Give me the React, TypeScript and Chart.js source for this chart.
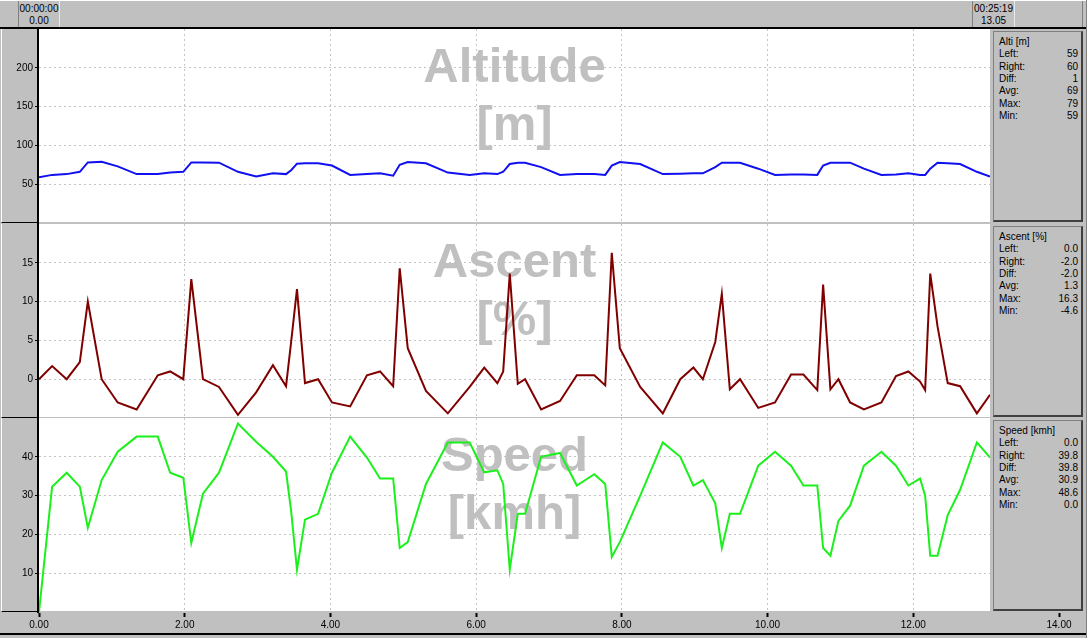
import React, { useEffect, useRef } from 'react';
import Chart from 'chart.js/auto';

// ---------------- data ----------------
const distanceKm = [
  0.0, 0.18, 0.38, 0.56, 0.67, 0.86, 1.08, 1.34, 1.63, 1.8, 1.98, 2.09, 2.25, 2.47, 2.73,
  2.98, 3.21, 3.39, 3.46, 3.54, 3.65, 3.83, 4.02, 4.27, 4.5, 4.68, 4.86, 4.95, 5.06, 5.31,
  5.61, 5.91, 6.11, 6.29, 6.37, 6.46, 6.57, 6.67, 6.89, 7.15, 7.38, 7.62, 7.77, 7.86, 7.97,
  8.25, 8.56, 8.8, 8.98, 9.11, 9.28, 9.37, 9.48, 9.62, 9.87, 10.1, 10.32, 10.49, 10.68, 10.76,
  10.86, 10.97, 11.13, 11.32, 11.56, 11.76, 11.93, 12.09, 12.16, 12.23, 12.33, 12.47, 12.64, 12.87, 13.05,
];

const altitudeM = [
  59, 62, 63, 66, 78, 79, 73, 63, 63, 65, 66, 78, 78, 77.7, 66,
  60, 64, 63, 68, 76.5, 77, 77, 74, 62, 63, 64, 61, 75, 78.6, 77,
  65, 62, 64, 63, 66, 76, 77.7, 77.7, 72, 62, 63, 63, 62, 74, 78.6,
  76, 63, 63.5, 64, 64, 72, 77.7, 77.7, 77.7, 70, 62, 62.6, 62.6, 62, 74,
  77.7, 77.7, 77.7, 70, 62, 62.5, 64, 62, 62, 70, 77.7, 77, 76, 66, 60,
];

const ascentPct = [
  0.0, 1.7, 0.0, 2.2, 10.0, 0.0, -3.0, -3.9, 0.5, 1.0, 0.0, 12.9, 0.0, -1.0, -4.6,
  -1.7, 1.8, -0.9, 4.8, 11.6, -0.5, 0.0, -3.0, -3.5, 0.5, 1.0, -0.9, 14.3, 4.0, -1.5,
  -4.4, -1.0, 1.5, -0.5, 1.0, 13.6, -0.6, 0.0, -3.9, -2.8, 0.5, 0.5, -0.8, 16.3, 4.0,
  -1.0, -4.4, 0.0, 1.5, 0.0, 4.8, 11.0, -1.3, 0.0, -3.7, -3.0, 0.6, 0.6, -1.4, 12.2,
  -1.3, 0.0, -3.0, -3.9, -3.0, 0.4, 1.0, -0.3, -1.4, 13.6, 6.8, -0.5, -0.9, -4.4, -2.0,
];

const speedKmh = [
  0, 32.3, 35.9, 32.3, 21.7, 34.0, 41.3, 45.2, 45.2, 35.9, 34.6, 17.8, 30.5, 35.9, 48.6,
  43.9, 40.0, 36.2, 26.0, 10.9, 23.8, 25.3, 35.9, 45.2, 39.8, 34.4, 34.4, 16.5, 18.0, 33.0,
  43.7, 43.7, 36.0, 36.5, 33.0, 10.9, 25.3, 25.3, 40.0, 41.0, 32.6, 35.5, 33.0, 14.2, 18.0,
  30.0, 43.7, 40.0, 32.6, 34.0, 28.0, 16.5, 25.3, 25.3, 37.7, 41.3, 37.7, 32.6, 32.6, 16.5,
  14.5, 23.5, 27.4, 37.7, 41.3, 37.7, 32.6, 34.4, 30.0, 14.5, 14.5, 25.0, 31.5, 43.7, 39.8,
];

const xAxisTicks = [0, 2, 4, 6, 8, 10, 12, 14];
const altitudeTicks = [50, 100, 150, 200];
const ascentTicks = [0, 5, 10, 15];
const speedTicks = [10, 20, 30, 40];

const altitudeStats = [['Left:', '59'], ['Right:', '60'], ['Diff:', '1'], ['Avg:', '69'], ['Max:', '79'], ['Min:', '59']];
const ascentStats = [['Left:', '0.0'], ['Right:', '-2.0'], ['Diff:', '-2.0'], ['Avg:', '1.3'], ['Max:', '16.3'], ['Min:', '-4.6']];
const speedStats = [['Left:', '0.0'], ['Right:', '39.8'], ['Diff:', '39.8'], ['Avg:', '30.9'], ['Max:', '48.6'], ['Min:', '0.0']];

const X_END = 13.05;
const FONT = '"Liberation Sans", Arial, sans-serif';

// ---------------- layout ----------------
const PANEL_TOPS = [29, 224, 418];
const PANEL_H = 194;
const PLOT_W = 990;

function watermarkPlugin(lines: string[]) {
  return {
    id: 'watermark',
    beforeDatasetsDraw(chart: any) {
      const { ctx, chartArea } = chart;
      ctx.save();
      ctx.font = 'bold 49px ' + FONT;
      ctx.fillStyle = '#c0c0c0';
      ctx.textAlign = 'center';
      ctx.textBaseline = 'alphabetic';
      const cx = (chartArea.left + chartArea.right) / 2;
      ctx.fillText(lines[0], cx, chartArea.top + 53);
      ctx.fillText(lines[1], cx, chartArea.top + 111);
      ctx.restore();
    },
  };
}

function panelChart(
  canvas: HTMLCanvasElement,
  values: number[],
  color: string,
  min: number,
  max: number,
  ticks: number[],
  title: string[],
) {
  return new Chart(canvas, {
    type: 'line',
    data: {
      datasets: [
        {
          data: distanceKm.map((x, i) => ({ x, y: values[i] })),
          borderColor: color,
          borderWidth: 2,
          pointRadius: 0,
          pointHoverRadius: 0,
          tension: 0,
          fill: false,
        },
      ],
    },
    options: {
      animation: false,
      responsive: false,
      maintainAspectRatio: false,
      events: [],
      layout: { padding: 0 },
      plugins: { legend: { display: false }, tooltip: { enabled: false } },
      scales: {
        x: {
          type: 'linear',
          min: 0,
          max: X_END,
          display: true,
          ticks: { display: false },
          grid: { color: '#c4c4c4', lineWidth: 1, drawTicks: false },
          border: { display: false, dash: [2, 3] },
          afterBuildTicks: (s: any) => {
            s.ticks = xAxisTicks.filter((v) => v > 0 && v < X_END).map((v) => ({ value: v }));
          },
          afterFit: (s: any) => {
            s.height = 0;
            s.paddingLeft = 0;
            s.paddingRight = 0;
          },
        },
        y: {
          type: 'linear',
          min,
          max,
          ticks: {
            color: '#000',
            font: { family: FONT, size: 10 },
            padding: 2,
            callback: (v: any) => String(v),
          },
          grid: { color: '#c4c4c4', lineWidth: 1, tickColor: '#000', tickLength: 4, tickWidth: 1 },
          border: { display: false, dash: [2, 3] },
          afterBuildTicks: (s: any) => {
            s.ticks = ticks.map((v) => ({ value: v }));
          },
          afterFit: (s: any) => {
            s.width = 39;
            s.paddingTop = 0;
            s.paddingBottom = 0;
          },
        },
      },
    } as any,
    plugins: [watermarkPlugin(title)],
  });
}

function axisChart(canvas: HTMLCanvasElement) {
  return new Chart(canvas, {
    type: 'line',
    data: { datasets: [] },
    options: {
      animation: false,
      responsive: false,
      maintainAspectRatio: false,
      events: [],
      layout: { padding: { left: 39, right: 28, top: 0, bottom: 0 } },
      plugins: { legend: { display: false }, tooltip: { enabled: false } },
      scales: {
        x: {
          type: 'linear',
          position: 'bottom',
          min: 0,
          max: 14,
          ticks: {
            color: '#000',
            font: { family: FONT, size: 10 },
            padding: 2,
            autoSkip: false,
            maxRotation: 0,
            callback: (v: any) => Number(v).toFixed(2),
          },
          grid: { drawOnChartArea: false, drawTicks: true, tickLength: 4, tickColor: '#000', tickWidth: 2 },
          border: { display: false },
          afterBuildTicks: (s: any) => {
            s.ticks = xAxisTicks.map((v) => ({ value: v }));
          },
          afterFit: (s: any) => {
            s.height = 25;
          },
        },
        y: { display: false },
      },
    } as any,
  });
}

function InfoPanel({ top, title, rows }: { top: number; title: string; rows: string[][] }) {
  return (
    <div
      style={{
        position: 'absolute',
        left: 993,
        top: top + 2,
        width: 90,
        height: PANEL_H - 3,
        boxSizing: 'border-box',
        background: '#c0c0c0',
        borderTop: '1px solid #808080',
        borderLeft: '1px solid #808080',
        borderRight: '2px solid #404040',
        borderBottom: '2px solid #404040',
      }}
    >
      <div style={{ position: 'absolute', left: 5, top: 4, lineHeight: '12px', whiteSpace: 'nowrap' }}>{title}</div>
      {rows.map((r, i) => (
        <div
          key={i}
          style={{
            position: 'absolute',
            left: 5,
            right: 3,
            top: 4 + (i + 1) * 12.3,
            lineHeight: '12px',
            display: 'flex',
            justifyContent: 'space-between',
            whiteSpace: 'nowrap',
          }}
        >
          <span>{r[0]}</span>
          <span>{r[1]}</span>
        </div>
      ))}
    </div>
  );
}

export default function App() {
  const altRef = useRef<HTMLCanvasElement>(null);
  const ascRef = useRef<HTMLCanvasElement>(null);
  const spdRef = useRef<HTMLCanvasElement>(null);
  const axRef = useRef<HTMLCanvasElement>(null);

  useEffect(() => {
    document.body.style.margin = '0';
    const charts = [
      panelChart(altRef.current!, altitudeM, '#1010f0', 0, 250, altitudeTicks, ['Altitude', '[m]']),
      panelChart(ascRef.current!, ascentPct, '#800000', -5, 20, ascentTicks, ['Ascent', '[%]']),
      panelChart(spdRef.current!, speedKmh, '#1cf01c', 0, 50, speedTicks, ['Speed', '[kmh]']),
      axisChart(axRef.current!),
    ];
    return () => charts.forEach((c) => c.destroy());
  }, []);

  const refs = [altRef, ascRef, spdRef];
  const infos = [
    { title: 'Alti [m]', rows: altitudeStats },
    { title: 'Ascent [%]', rows: ascentStats },
    { title: 'Speed [kmh]', rows: speedStats },
  ];

  return (
    <div
      style={{
        position: 'relative',
        width: 1087,
        height: 638,
        background: '#c0c0c0',
        overflow: 'hidden',
        fontFamily: FONT,
        fontSize: 10,
        color: '#000',
      }}
    >
      {/* top bar */}
      <div style={{ position: 'absolute', left: 0, top: 0, width: 1087, height: 1, background: '#fff' }} />
      <div style={{ position: 'absolute', left: 0, top: 27, width: 1087, height: 2, background: '#000' }} />
      <div
        style={{
          position: 'absolute', left: 18, top: 1, width: 42, height: 26, boxSizing: 'border-box',
          borderLeft: '1px solid #808080', borderRight: '1px solid #e8e8e8',
          textAlign: 'center', lineHeight: '12px', paddingTop: 2,
        }}
      >
        <div>00:00:00</div>
        <div>0.00</div>
      </div>
      <div
        style={{
          position: 'absolute', left: 972, top: 1, width: 43, height: 26, boxSizing: 'border-box',
          borderLeft: '1px solid #808080', borderRight: '1px solid #e8e8e8',
          textAlign: 'center', lineHeight: '12px', paddingTop: 2,
        }}
      >
        <div>00:25:19</div>
        <div>13.05</div>
      </div>
      <div style={{ position: 'absolute', left: 1082, top: 1, width: 1, height: 26, background: '#808080' }} />

      {PANEL_TOPS.map((t, i) => (
        <React.Fragment key={i}>
          <div
            style={{
              position: 'absolute', left: 1, top: t, width: 36, height: PANEL_H, boxSizing: 'border-box',
              borderLeft: '1px solid #fff', borderBottom: '1px solid #000', background: '#c0c0c0',
            }}
          />
          <div style={{ position: 'absolute', left: 39, top: t, width: 951, height: PANEL_H - 1, background: '#fff' }} />
          <InfoPanel top={t} title={infos[i].title} rows={infos[i].rows} />
        </React.Fragment>
      ))}

      {/* plot left border */}
      <div style={{ position: 'absolute', left: 37, top: 29, width: 2, height: 584, background: '#000' }} />

      {/* bottom frame */}
      <div style={{ position: 'absolute', left: 0, top: 633, width: 1087, height: 2, background: '#000' }} />
      <div style={{ position: 'absolute', left: 1086, top: 0, width: 1, height: 638, background: '#808080' }} />

      {refs.map((r, i) => (
        <canvas
          key={i}
          ref={r}
          width={PLOT_W}
          height={PANEL_H}
          style={{ position: 'absolute', left: 0, top: PANEL_TOPS[i], width: PLOT_W, height: PANEL_H }}
        />
      ))}
      <canvas
        ref={axRef}
        width={1087}
        height={49}
        style={{ position: 'absolute', left: 0, top: 589, width: 1087, height: 49 }}
      />
    </div>
  );
}
